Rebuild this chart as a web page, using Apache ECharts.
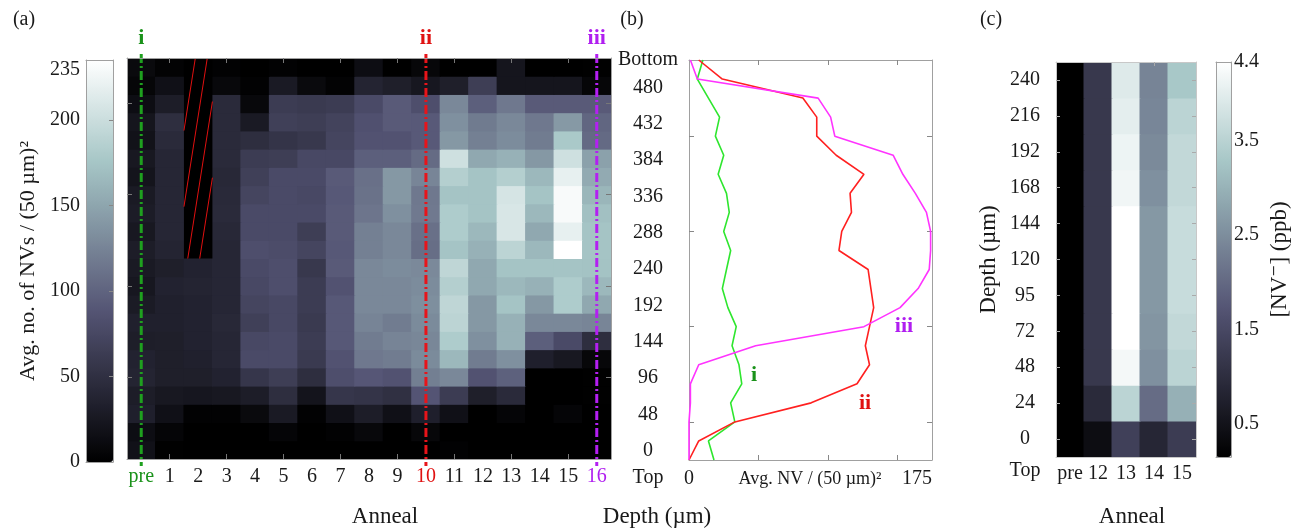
<!DOCTYPE html>
<html>
<head>
<meta charset="utf-8">
<title>NV depth profiles</title>
<script src="https://cdn.jsdelivr.net/npm/echarts@6.0.0/dist/echarts.min.js"></script>
<style>
  html, body { margin: 0; background: #fff; }
  #chart { width: 1298px; height: 531px; }
</style>
</head>
<body>
<div id="chart"></div>
<script>
// ---- data ----
const anneals = ['pre', '1', '2', '3', '4', '5', '6', '7', '8', '9', '10', '11', '12', '13', '14', '15', '16'];
const depthStep = 24;                       // um per row
const depthTicks = [0, 48, 96, 144, 192, 240, 288, 336, 384, 432, 480];
const nvScale = [0, 50, 100, 150, 200, 235];
const nvMax = 235;
const profileMax = 175;

// avg NVs per (50 um)^2, row 0 = surface ("Top"), one column per anneal
const nvMap = [
  [18,  1,    0,  0,  0,  0,  0,  0,   0,   0,   0,   2,   0,   0,   0,   0,   0],
  [14,  5,    0,  0,  0,  5,  0,  2,   8,   0,   7,   0,   0,   0,   0,   0,   0],
  [33, 17,    2,  2, 10, 27,  2, 17,  30,  17,  33,  17,   0,   5,   0,   5,   0],
  [30, 25,   23, 25, 30, 48, 21, 57,  55,  50,  88,  63,  32,  44,   0,   0,   1],
  [38, 32,   32, 36, 57, 65, 48, 82,  90,  86, 121, 128,  86,  98,   0,   0,   1],
  [36, 32,   34, 40, 78, 78, 61, 86, 116, 119, 130, 165, 119, 134,  33,  25,   7],
  [31, 32,   36, 40, 76, 78, 63, 91, 119, 125, 127, 181, 134, 159,  97,  78,  48],
  [34, 34,   36, 42, 67, 76, 61, 91, 125, 119, 130, 190, 140, 159, 128, 128, 126],
  [28, 34,   36, 40, 72, 76, 63, 91, 128, 128, 133, 192, 140, 174, 140, 181, 152],
  [24, 36,   38, 40, 76, 82, 63, 86, 128, 128, 131, 185, 152, 165, 159, 181, 165],
  [27, 32,   36, 40, 78, 82, 59, 93, 128, 131, 129, 192, 152, 174, 174, 174, 173],
  [30, 38, null, 40, 82, 80, 72, 91, 122, 128, 108, 174, 159, 190, 165, 235, 174],
  [25, 40, null, 42, 78, 78, 65, 93, 122, 128, 110, 181, 165, 209, 152, 219, 174],
  [29, 40, null, 44, 78, 78, 78, 93, 114, 134, 117, 181, 174, 209, 165, 230, 171],
  [27, 40, null, 43, 72, 78, 76, 91, 111, 140, 116, 174, 174, 207, 174, 230, 163],
  [21, 40, null, 42, 67, 78, 78, 93, 110, 140, 126, 185, 174, 185, 165, 219, 154],
  [25, 40, null, 44, 63, 65, 76, 76,  97,  97, 106, 202, 152, 159, 140, 202, 147],
  [19, 44, null, 44, 48, 55, 59, 72,  86,  86,  92, 140, 122, 131, 119, 178, 105],
  [22, 48, null, 44, 27, 67, 65, 70,  84,  93,  92, 134, 118, 128, 116, 141, 102],
  [14, 30, null, 44,  8, 63, 61, 63,  78,  93,  82, 128,  97, 116,  93,  93,  93],
  [ 6, 17, null,  8,  2, 27, 10,  3,  38,  32,  24,  32,  65,  22,  22,  22,   6],
  [10,  3, null,  2,  0,  2,  0,  0,  14,   0,   7,   0,   0,  22,   0,   0,   1]
];
const noDataCol = 2;
const noDataRows = [11, 21];

const profileCols = [0, 10, 16];
const profileTags = ['i', 'ii', 'iii'];
const rowTicksB = [2, 7, 12, 17];

const annealsC = ['pre', '12', '13', '14', '15'];
const depthC = ['0', '24', '48', '72', '95', '120', '144', '168', '192', '216', '240'];
// [NV-] in ppb, row 0 = surface
const nvC = [
  [0.15, 0.39, 1.35, 0.86, 1.27],
  [0.15, 0.94, 3.52, 2.05, 2.97],
  [0.15, 1.20, 4.20, 2.53, 3.52],
  [0.15, 1.20, 4.33, 2.60, 3.60],
  [0.15, 1.20, 4.33, 2.64, 3.67],
  [0.15, 1.20, 4.33, 2.64, 3.67],
  [0.15, 1.20, 4.33, 2.64, 3.67],
  [0.15, 1.20, 4.16, 2.53, 3.60],
  [0.15, 1.20, 4.12, 2.45, 3.60],
  [0.15, 1.20, 4.01, 2.40, 3.52],
  [0.15, 1.20, 3.94, 2.37, 3.30]
];
const cMin = 0.15, cMax = 4.33;
const cScale = [0.5, 1.5, 2.5, 3.5];

// ---- style ----
const FONT = '"Liberation Serif", "DejaVu Serif", serif';
const INK = '#1a1a1a';
const GRAY = '#a0a0a0';
const bone = ['#000000', '#1c1c27', '#38384d', '#545474', '#707a8f', '#8ba1ab', '#a7c7c7', '#d3e3e3', '#ffffff'];
const markColors = ['#1fa01f', '#e8141a', '#b41ff2'];
const tagColors = ['#1a921a', '#e01212', '#b01ef0'];
const lineColors = ['#2ee62e', '#ff2020', '#ff33ff'];

const labelColor = {};
profileCols.forEach((c, i) => { labelColor[anneals[c]] = tagColors[i]; });

const heatA = [];
nvMap.forEach((row, j) => row.forEach((v, c) => { if (v !== null) heatA.push([c, j, v]); }));
const heatC = [];
nvC.forEach((row, j) => row.forEach((v, c) => heatC.push([c, j, v])));

const lastRow = nvMap.length - 1;
const depthBottom = (lastRow + 0.5) * depthStep;
const depthLow = -depthStep / 2;

const lbl = (extra) => Object.assign({ fontFamily: FONT, fontSize: 20, color: INK }, extra);
function edge(gridIndex, position, extra) {
  return Object.assign({
    gridIndex: gridIndex,
    position: position,
    axisLine: { show: true, onZero: false, lineStyle: { color: GRAY, width: 1 } },
    axisTick: { show: false },
    axisLabel: { show: false },
    splitLine: { show: false }
  }, extra);
}
const tickA = { show: true, inside: true, alignWithLabel: true, length: 5, interval: (i) => i % 2 === 1, lineStyle: { color: '#777' } };
const tickAy = { show: true, inside: true, alignWithLabel: true, length: 5, interval: (i) => i % 5 === 4, lineStyle: { color: '#777' } };
const tickC = { show: true, inside: true, alignWithLabel: true, length: 4, interval: 0, lineStyle: { color: '#aaa' } };

// map cell drawn slightly oversized so neighbours overlap (no seams)
function cellItem(params, api) {
  const p = api.coord([api.value(0), api.value(1)]);
  const s = api.size([1, 1]);
  return {
    type: 'rect',
    shape: { x: p[0] - s[0] / 2 - 0.5, y: p[1] - s[1] / 2 - 0.5, width: s[0] + 1, height: s[1] + 1 },
    style: { fill: api.visual('color') }
  };
}

const chart = echarts.init(document.getElementById('chart'));

const gText = (text, x, y, size, extra) => ({
  type: 'text', z: 100, silent: true,
  style: Object.assign({ text: text, x: x, y: y, font: size + 'px ' + FONT, fill: INK,
    textAlign: 'center', textVerticalAlign: 'middle', align: 'center', verticalAlign: 'middle' }, extra)
});

chart.setOption({
  animation: false,
  backgroundColor: '#ffffff',
  textStyle: { fontFamily: FONT },
  grid: [
    { left: 127, top: 58, width: 484, height: 401, outerBoundsMode: 'none' },
    { left: 86, top: 60, width: 27, height: 402, outerBoundsMode: 'none' },
    { left: 689, top: 60, width: 243, height: 400, outerBoundsMode: 'none' },
    { left: 1056, top: 62, width: 140, height: 395, outerBoundsMode: 'none' },
    { left: 1216, top: 62, width: 15, height: 395, outerBoundsMode: 'none' }
  ],
  xAxis: [
    edge(0, 'bottom', { type: 'category', data: anneals, axisTick: tickA, z: 6,
      axisLabel: lbl({ show: true, margin: 8, interval: 0, color: (v) => labelColor[v] || INK }) }),
    edge(0, 'top', { type: 'category', data: anneals, axisTick: tickA, z: 6 }),
    edge(1, 'bottom', { type: 'value', min: 0, max: 1, z: 6 }),
    edge(1, 'top', { type: 'value', min: 0, max: 1, z: 6 }),
    edge(2, 'bottom', { type: 'value', min: 0, max: profileMax,
      axisTick: { show: true, inside: true, length: 5, customValues: [50, 100, 150], lineStyle: { color: '#888' } },
      axisLabel: lbl({ show: true, margin: 9, customValues: [0, profileMax], alignMaxLabel: 'right' }) }),
    edge(2, 'top', { type: 'value', min: 0, max: profileMax,
      axisTick: { show: true, inside: true, length: 5, customValues: [50, 100, 150], lineStyle: { color: '#888' } } }),
    edge(3, 'bottom', { type: 'category', data: annealsC, z: 6, axisLine: { show: true, onZero: false, lineStyle: { color: '#c8c8c8' } },
      axisLabel: lbl({ show: true, margin: 7, interval: 0 }) }),
    edge(3, 'top', { type: 'category', data: annealsC, z: 6, axisLine: { show: true, onZero: false, lineStyle: { color: '#c8c8c8' } },
      axisTick: Object.assign({}, tickC, { interval: (i) => i === 3 }) }),
    edge(4, 'bottom', { type: 'value', min: 0, max: 1, z: 6 }),
    edge(4, 'top', { type: 'value', min: 0, max: 1, z: 6 })
  ],
  yAxis: [
    edge(0, 'left', { type: 'category', data: nvMap.map((r, j) => j), axisTick: tickAy, z: 6 }),
    edge(0, 'right', { type: 'category', data: nvMap.map((r, j) => j), axisTick: tickAy, z: 6 }),
    edge(1, 'left', { type: 'value', min: 0, max: nvMax, z: 6,
      axisLabel: lbl({ show: true, margin: 6, customValues: nvScale, verticalAlignMaxLabel: 'top' }),
      name: 'Avg. no. of NVs / (50 µm)²', nameLocation: 'middle', nameRotate: 90, nameGap: 47,
      nameTextStyle: { fontFamily: FONT, fontSize: 22, color: INK } }),
    edge(1, 'right', { type: 'value', min: 0, max: nvMax, z: 6,
      axisTick: { show: true, inside: true, length: 4, customValues: nvScale.slice(1, -1), lineStyle: { color: '#888' } } }),
    edge(2, 'left', { type: 'value', min: depthLow, max: depthBottom,
      axisTick: { show: true, inside: true, length: 5, lineStyle: { color: '#888' },
        customValues: rowTicksB.map((r) => depthLow + r * (depthBottom - depthLow) / lastRow) },
      axisLabel: lbl({ show: true, align: 'center', margin: 41, customValues: depthTicks.concat(depthBottom),
        formatter: (v) => (v === depthBottom ? 'Bottom' : String(v)) }) }),
    edge(2, 'right', { type: 'value', min: 0, max: lastRow,
      axisTick: { show: true, inside: true, length: 5, customValues: rowTicksB, lineStyle: { color: '#888' } } }),
    edge(3, 'left', { type: 'category', data: depthC, axisTick: tickC, z: 6,
      axisLine: { show: true, onZero: false, lineStyle: { color: '#c8c8c8' } },
      axisLabel: lbl({ show: true, align: 'center', margin: 31, interval: 0 }),
      name: 'Depth (µm)', nameLocation: 'middle', nameRotate: 90, nameGap: 56,
      nameTextStyle: { fontFamily: FONT, fontSize: 23, color: INK } }),
    edge(3, 'right', { type: 'category', data: depthC, axisTick: tickC, z: 6,
      axisLine: { show: true, onZero: false, lineStyle: { color: '#c8c8c8' } } }),
    edge(4, 'right', { type: 'value', min: cMin, max: cMax, z: 6,
      axisLabel: lbl({ show: true, margin: 3, customValues: cScale.concat(cMax),
        formatter: (v) => (v === cMax ? '4.4' : v.toFixed(1)) }),
      name: '[NV⁻] (ppb)', nameLocation: 'middle', nameRotate: 90, nameGap: 37,
      nameTextStyle: { fontFamily: FONT, fontSize: 23, color: INK } }),
    edge(4, 'left', { type: 'value', min: cMin, max: cMax, z: 6 })
  ],
  visualMap: [
    { type: 'continuous', seriesIndex: 0, dimension: 2, min: 0, max: nvMax, inRange: { color: bone },
      show: true, calculable: false, hoverLink: false, left: 86, top: 60, itemWidth: 27, itemHeight: 402,
      padding: 0, text: null, z: 1 },
    { type: 'continuous', seriesIndex: 6, dimension: 2, min: cMin, max: cMax, inRange: { color: bone },
      show: true, calculable: false, hoverLink: false, left: 1216, top: 62, itemWidth: 15, itemHeight: 395,
      padding: 0, text: null, z: 1 }
  ],
  series: [
    { type: 'custom', xAxisIndex: 0, yAxisIndex: 0, data: heatA, silent: true, clip: true, z: 2,
      renderItem: cellItem },
    { // cells with no data: black with red hatching
      type: 'custom', xAxisIndex: 0, yAxisIndex: 0, silent: true, clip: true, z: 3,
      data: [[noDataCol, noDataRows[0], noDataRows[1]]],
      renderItem: (params, api) => {
        const c = api.value(0);
        const sz = api.size([1, 1]);
        const pTop = api.coord([c, api.value(2)]);
        const pBot = api.coord([c, api.value(1)]);
        const L = pTop[0] - sz[0] / 2, R = L + sz[0];
        const T = pTop[1] - sz[1] / 2, B = pBot[1] + sz[1] / 2;
        const kids = [{ type: 'rect', shape: { x: L, y: T, width: R - L, height: B - T }, style: { fill: '#000' } }];
        const slope = 0.157, gap = sz[0] * 0.42, start = sz[0] * 0.4;
        for (let k = 0; k < 4; k++) {
          const a = L + start + k * gap;
          const y0 = Math.max(T, T + (a - R) / slope);
          const y1 = Math.min(B, T + (a - L) / slope);
          if (y1 <= y0) continue;
          kids.push({ type: 'line', shape: { x1: a - slope * (y0 - T), y1: y0, x2: a - slope * (y1 - T), y2: y1 },
            style: { stroke: '#e01010', lineWidth: 1 } });
        }
        return { type: 'group', children: kids };
      }
    },
    { // profile markers on the map
      type: 'custom', xAxisIndex: 0, yAxisIndex: 0, silent: true, clip: false, z: 4,
      data: profileCols.map((c, i) => [c, i]),
      renderItem: (params, api) => {
        const i = api.value(1);
        const x = api.coord([api.value(0), 0])[0];
        const cs = params.coordSys;
        return { type: 'group', children: [
          { type: 'line', shape: { x1: x, y1: cs.y - 4, x2: x, y2: cs.y + cs.height + 7 },
            style: { stroke: markColors[i], lineWidth: 3, lineDash: [9, 3, 2, 3] } },
          { type: 'text', style: { text: profileTags[i], x: x, y: cs.y - 20, fill: tagColors[i],
            font: 'bold 22px ' + FONT, textAlign: 'center', textVerticalAlign: 'middle', align: 'center', verticalAlign: 'middle' } }
        ] };
      }
    }
  ].concat(profileCols.map((c, i) => ({
    type: 'line', xAxisIndex: 4, yAxisIndex: 5, silent: true, clip: false, symbol: 'none',
    data: nvMap.map((row, j) => [row[c], j]),
    lineStyle: { color: lineColors[i], width: 1.6 }
  }))).concat([
    { type: 'custom', xAxisIndex: 6, yAxisIndex: 6, data: heatC, silent: true, clip: true, z: 2,
      renderItem: cellItem }
  ]),
  graphic: [
    gText('(a)', 24, 20, 20),
    gText('(b)', 632, 20, 20),
    gText('(c)', 991, 20, 20),
    gText('Anneal', 385, 517, 23),
    gText('Depth (µm)', 657, 517, 23),
    gText('Anneal', 1132, 517, 23),
    gText('Top', 648, 478, 20),
    gText('Top', 1025, 471, 20),
    gText('Avg. NV / (50 µm)²', 810, 479, 18),
    gText('i', 754, 375, 22, { fill: tagColors[0], font: 'bold 22px ' + FONT }),
    gText('ii', 865, 403, 22, { fill: tagColors[1], font: 'bold 22px ' + FONT }),
    gText('iii', 904, 326, 22, { fill: tagColors[2], font: 'bold 22px ' + FONT })
  ]
});
</script>
</body>
</html>
